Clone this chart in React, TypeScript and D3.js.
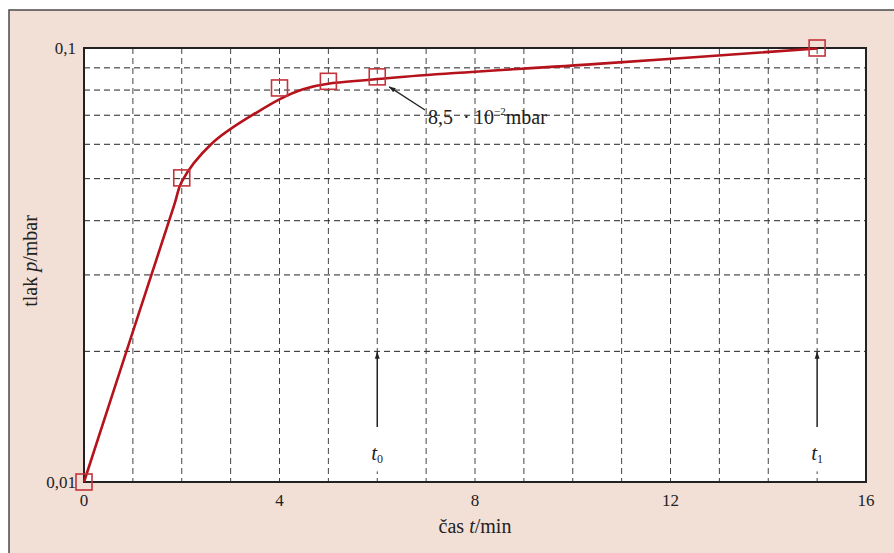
import React from "react";
import * as d3 from "d3";

const markerT = [0, 2, 4, 5, 6, 15];
const markerP = [0.01, 0.0502, 0.0809, 0.0838, 0.0858, 0.1];

const curveT = [0, 1, 1.85, 2.0, 2.6, 3.44, 4.5, 6.0, 10.5, 15.0];
const curveP = [0.01, 0.0222, 0.0436, 0.0492, 0.06, 0.07, 0.0805, 0.0848, 0.0919, 0.0997];

const xTickLabels = [0, 4, 8, 12, 16];
const xGrid = [1, 2, 3, 4, 5, 6, 7, 8, 9, 10, 11, 12, 13, 14, 15];
const yGrid = [0.02, 0.03, 0.04, 0.05, 0.06, 0.07, 0.08, 0.09];
const yTickLabels = [
  { v: 0.1, label: "0,1" },
  { v: 0.01, label: "0,01" },
];
const timeMarks = [
  { t: 6, sub: "0" },
  { t: 15, sub: "1" },
];

const W = 894;
const H = 553;
const L = 84, R = 866, T = 48, B = 482;
const FONT = "'Liberation Serif', 'Times New Roman', serif";
const RED = "#b5121b";
const MRED = "#c4333b";

export default function App() {
  const x = d3.scaleLinear().domain([0, 16]).range([L, R]);
  const y = d3.scaleLog().domain([0.01, 0.1]).range([B, T]);
  const pts: [number, number][] = curveT.map((t, i) => [t, curveP[i]]);
  const line = d3
    .line<[number, number]>()
    .x((d) => x(d[0]))
    .y((d) => y(d[1]))
    .curve(d3.curveCatmullRom.alpha(0.5));
  const annX = x(6), annY = y(markerP[4]);
  return (
    <svg
      width={W}
      height={H}
      style={{ position: "absolute", left: 0, top: 0 }}
      fontFamily={FONT}
    >
      <defs>
        <marker id="ah" viewBox="0 0 10 10" refX="9" refY="5" markerWidth="7" markerHeight="7" orient="auto-start-reverse" markerUnits="userSpaceOnUse">
          <path d="M0,1.5 L10,5 L0,8.5 Z" fill="#222" />
        </marker>
      </defs>
      <rect x={0} y={0} width={W} height={H} fill="#ffffff" />
      <rect x={9} y={10} width={W + 20} height={H + 20} fill="#f2dfd6" stroke="#4a4a4a" strokeWidth={1.5} />
      <rect x={L} y={T} width={R - L} height={B - T} fill="#ffffff" />
      {xGrid.map((t) => (
        <line key={"vx" + t} x1={x(t)} x2={x(t)} y1={T} y2={B} stroke="#444" strokeWidth={1} strokeDasharray="6,4" />
      ))}
      {yGrid.map((v) => (
        <line key={"hy" + v} x1={L} x2={R} y1={y(v)} y2={y(v)} stroke="#222" strokeWidth={1} strokeDasharray="6,4" />
      ))}
      {timeMarks.map((m) => (
        <g key={"tm" + m.t}>
          <rect x={x(m.t) - 12} y={y(0.02) + 2} width={24} height={118} fill="#ffffff" />
          <line x1={x(m.t)} x2={x(m.t)} y1={427} y2={y(0.02) + 1} stroke="#222" strokeWidth={1.5} markerEnd="url(#ah)" />
          <text x={x(m.t) - 6} y={460} fontSize={21} fontStyle="italic" fill="#222">
            t
            <tspan fontSize={12} fontStyle="normal" dy={3}>{m.sub}</tspan>
          </text>
        </g>
      ))}
      <rect x={L} y={T} width={R - L} height={B - T} fill="none" stroke="#222" strokeWidth={2} />
      <path d={line(pts) || ""} fill="none" stroke={RED} strokeWidth={2.6} />
      {markerT.map((t, i) => (
        <rect key={"m" + t} x={x(t) - 8} y={y(markerP[i]) - 8} width={16} height={16} fill="none" stroke={MRED} strokeWidth={1.6} />
      ))}
      <line x1={425} y1={110} x2={annX + 12} y2={annY + 10} stroke="#222" strokeWidth={1.3} markerEnd="url(#ah)" />
      <text y={124} fontSize={20} fill="#222">
        <tspan x={428}>8,5</tspan>
        <tspan x={463}>·</tspan>
        <tspan x={474}>10</tspan>
        <tspan fontSize={11} dy={-9}>−2</tspan>
        <tspan dy={9}>mbar</tspan>
      </text>
      {xTickLabels.map((t) => (
        <text key={"xt" + t} x={x(t)} y={506} fontSize={17} textAnchor="middle" fill="#222">{t}</text>
      ))}
      {yTickLabels.map((d) => (
        <text key={"yt" + d.v} x={76} y={y(d.v) + 6} fontSize={17} textAnchor="end" fill="#222">{d.label}</text>
      ))}
      <text x={475} y={533} fontSize={20} textAnchor="middle" fill="#222">
        čas <tspan fontStyle="italic">t</tspan>/min
      </text>
      <text transform="translate(37,261) rotate(-90)" fontSize={20} textAnchor="middle" fill="#222">
        tlak <tspan fontStyle="italic">p</tspan>/mbar
      </text>
    </svg>
  );
}
